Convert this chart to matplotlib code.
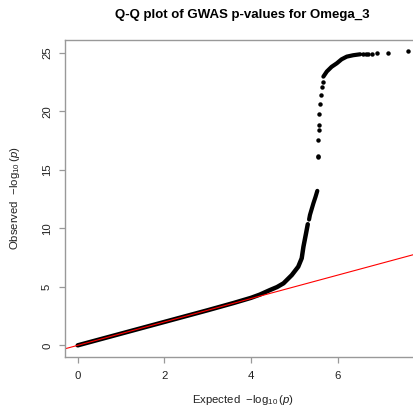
import numpy as np
import matplotlib
matplotlib.use("Agg")
import matplotlib.pyplot as plt

plt.rcParams["font.family"] = ["Liberation Sans", "DejaVu Sans"]
plt.rcParams["mathtext.fontset"] = "custom"
plt.rcParams["mathtext.rm"] = "Liberation Sans"
plt.rcParams["mathtext.it"] = "Liberation Sans:italic"

# expected vs observed -log10(p), lower dense band (points overlap into a line)
band_exp = [0.0, 1.0, 2.0, 3.0, 3.6, 4.0, 4.2, 4.44, 4.6, 4.75, 4.94, 5.09, 5.17, 5.21, 5.27, 5.31]
band_obs = [0.0, 1.0, 2.0, 3.0, 3.62, 4.06, 4.33, 4.73, 4.98, 5.3, 6.0, 6.72, 7.44, 8.43, 9.57, 10.35]
band2_exp = [5.34, 5.36, 5.44, 5.49, 5.53]
band2_obs = [10.75, 11.14, 12.14, 12.7, 13.2]

# isolated hits on the steep part
hit_exp = [5.54, 5.54, 5.55, 5.56, 5.56, 5.58, 5.60, 5.61, 5.63, 5.65]
hit_obs = [16.07, 16.2, 17.55, 18.4, 18.8, 19.77, 20.6, 21.4, 22.1, 22.5]

# upper bend into the plateau
top_exp = [5.67, 5.75, 5.86, 5.98, 6.09, 6.21, 6.36, 6.52]
top_obs = [22.96, 23.4, 23.8, 24.1, 24.44, 24.67, 24.79, 24.87]

# plateau tail
tail_exp = [6.59, 6.65, 6.71, 6.79, 6.91, 7.15, 7.62]
tail_obs = [24.87, 24.9, 24.9, 24.92, 24.96, 25.01, 25.13]

W, H = 414, 412
fig = plt.figure(figsize=(W / 100, H / 100), dpi=100)
ax = fig.add_axes([65 / W, 55.3 / H, 355 / W, 316.7 / H])
ax.set_xlim(-0.293, 7.90)
ax.set_ylim(-0.97, 26.09)

ms = 3.2
line_kw = dict(color="black", solid_capstyle="round", solid_joinstyle="round")
ax.plot(band_exp, band_obs, lw=3.2, **line_kw)
ax.plot(band2_exp, band2_obs, lw=3.0, **line_kw)
ax.plot(hit_exp, hit_obs, "o", color="black", ms=ms, mew=0)
ax.plot(top_exp, top_obs, lw=3.0, **line_kw)
ax.plot(tail_exp, tail_obs, "o", color="black", ms=ms, mew=0)

ax.axline((0, 0), slope=1, color="red", lw=0.8)

axis_col = "#999999"
for s in ax.spines.values():
    s.set_color(axis_col)
    s.set_linewidth(1.0)

ax.set_xticks([0, 2, 4, 6])
ax.set_yticks([0, 5, 10, 15, 20, 25])
ax.tick_params(axis="both", length=4.3, width=0.9, color=axis_col,
               labelsize=8.2, labelcolor="#222222")
ax.tick_params(axis="x", pad=6)
ax.tick_params(axis="y", pad=5)
for lab in ax.get_yticklabels():
    lab.set_rotation(90)
    lab.set_va("center")

fig.text(242 / W, 1 - 15 / H, "Q-Q plot of GWAS p-values for Omega_3",
         ha="center", va="center", fontsize=9.5, fontweight="bold")
fig.text(243 / W, 1 - 400 / H, r"Expected  $-\log_{10}(\mathit{p})$",
         ha="center", va="center", fontsize=8.2, color="#222222")
fig.text(15 / W, 1 - 198 / H, r"Observed  $-\log_{10}(\mathit{p})$",
         ha="center", va="center", rotation=90, fontsize=8.2, color="#222222")

fig.savefig("out.png", dpi=100)
